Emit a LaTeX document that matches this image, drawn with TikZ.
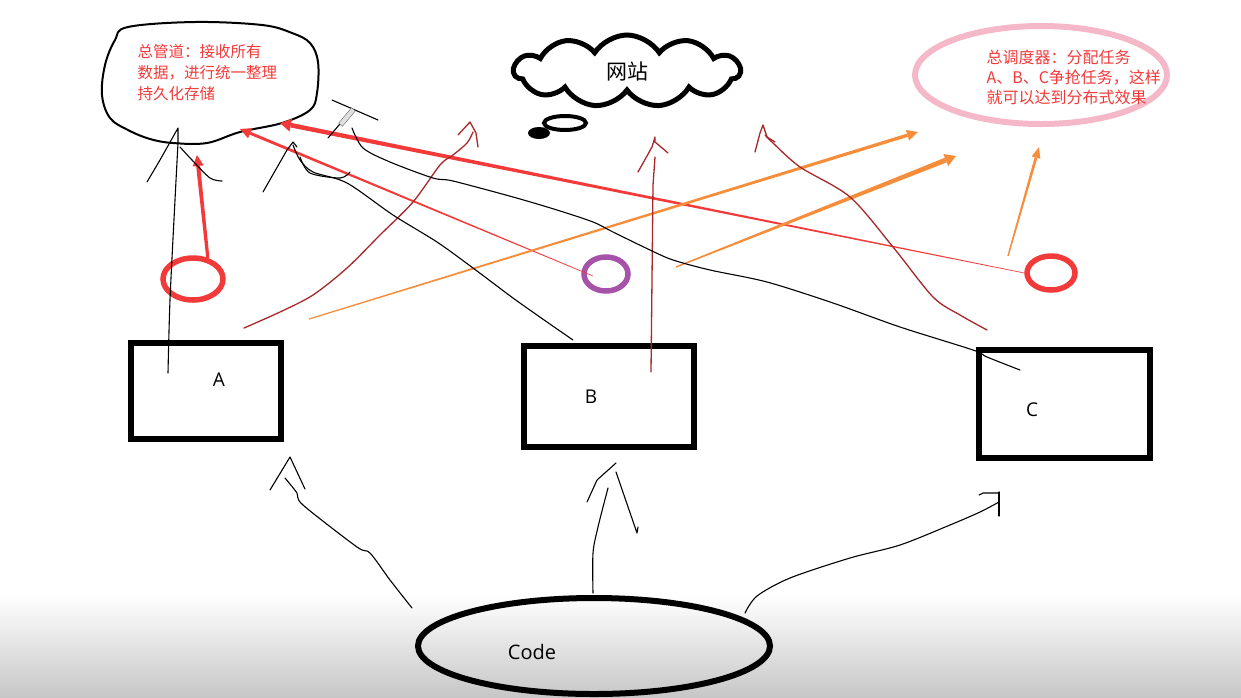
\documentclass[tikz,border=0pt]{standalone}
\usepackage{fontspec}
\setmainfont{Open Sans}
\newfontfamily\cjk{Noto Sans CJK SC}
\usetikzlibrary{calc,shapes.geometric,shapes.symbols}
\definecolor{inkred}{HTML}{F23A3A}
\definecolor{inkorange}{HTML}{F68D3A}
\definecolor{inkbrown}{HTML}{A8282A}
\definecolor{inkpink}{HTML}{F5B8C9}
\definecolor{inkpurple}{HTML}{A552A8}
\tikzset{
	box/.style={draw, rectangle, line width=6.5pt, inner sep=0pt},
	ring/.style={draw, ellipse, line width=5.5pt, inner sep=0pt},
	letter/.style={font=\fontsize{19}{22}\selectfont},
	note/.style={anchor=west, align=left, text=inkred},
	pen/.style={black, line width=1.1pt, line cap=round, line join=round},
	brush/.style={pen, inkbrown, line width=1.3pt}
}
% tapered arrow: [colour](from)(to)(start half width:end half width:head half width)
\def\taper[#1](#2)(#3)(#4:#5:#6){
	\coordinate (ta) at (#2);
	\coordinate (tb) at ($(#3)!11pt!(ta)$);
	\fill[#1] ($(ta)!#4!90:(tb)$) -- ($(tb)!#5!-90:(ta)$) -- ($(tb)!#5!90:(ta)$) -- ($(ta)!#4!-90:(tb)$) -- cycle;
	\fill[#1] (#3) -- ($(tb)!#6!90:(ta)$) -- ($(tb)!#6!-90:(ta)$) -- cycle;
}

\begin{document}
\begin{tikzpicture}[x=1pt,y=-1pt]
	%%%%% START %%%%%
	\useasboundingbox (0,0) rectangle (1241,697);
	\shade[top color=white, bottom color=black!22] (0,595) rectangle (1241,697);
	
	% pipeline blob
	\draw[line width=2pt, line join=round] plot[smooth cycle, tension=0.6] coordinates {(128,27) (195,22) (262,25) (292,33) (310,43) (318,62) (317,93) (310,110) (282,123) (240,132) (207,143) (173,143) (150,139) (128,130) (110,118) (102,95) (105,65) (115,40)};
	\node[note, font=\cjk\fontsize{15.5}{21}\selectfont] (pipeText) at (134,73) {总管道：接收所有\\数据，进行统一整理\\持久化存储};
	
	% website cloud
	\node[cloud, draw, line width=5pt, cloud puffs=11, cloud puff arc=115, aspect=2.8, minimum width=226pt, minimum height=72pt, font=\cjk\fontsize{21}{24}\selectfont] (web) at (627,71) {网站};
	\draw[line width=4pt] (565,123) ellipse (21 and 7);
	\fill (539,133) ellipse (11 and 6);
	
	% scheduler
	\node[ring, draw=inkpink, line width=6pt, minimum width=252pt, minimum height=98pt] (sched) at (1041,75) {};
	\node[note, font=\cjk\fontsize{16}{20}\selectfont] (schedText) at (983,77) {总调度器：分配任务\\A、B、C争抢任务，这样\\就可以达到分布式效果};
	
	% workers
	\node[box, minimum width=150pt, minimum height=96pt] (A) at (206,391) {};
	\node[box, minimum width=170pt, minimum height=101pt] (B) at (609,396.5) {};
	\node[box, minimum width=171pt, minimum height=108pt] (C) at (1064.5,404) {};
	\node[letter] (labA) at (219,380) {A};
	\node[letter] (labB) at (591,397) {B};
	\node[letter] (labC) at (1032,410) {C};
	
	\node[ring, draw=inkred, minimum width=60pt, minimum height=42pt] (cA) at (193,279) {};
	\node[ring, draw=inkpurple, minimum width=44pt, minimum height=34pt] (cB) at (606,274) {};
	\node[ring, draw=inkred, minimum width=48pt, minimum height=34pt] (cC) at (1051,273) {};
	
	% code
	\node[ring, line width=6pt, minimum width=352pt, minimum height=96pt] (code) at (594,646) {};
	\node[font=\fontsize{20}{24}\selectfont] (codeText) at (532,652) {Code};
	
	% arrow ends
	\coordinate (pipeA) at (197,155);
	\coordinate (pipeB) at (240,129);
	\coordinate (pipeC) at (280,123);
	\coordinate (fromB) at (593,276);
	\coordinate (fromA) at (309,319);
	\coordinate (fromB2) at (676,267);
	\coordinate (fromC) at (1008,256);
	\coordinate (schedA) at (918,132);
	\coordinate (schedB) at (956,156);
	\coordinate (schedC) at (1039,147);
	
	% red arrows
	\taper[inkred](cA.55)(pipeA)(1.6pt:2pt:5.5pt)
	\taper[inkred](fromB)(pipeB)(0.3pt:1.5pt:5.5pt)
	\taper[inkred](cC.west)(pipeC)(0.3pt:2.3pt:6.5pt)
	
	% orange arrows
	\taper[inkorange](fromA)(schedA)(0.6pt:1.7pt:5.5pt)
	\taper[inkorange](fromB2)(schedB)(0.7pt:2.5pt:6.5pt)
	\taper[inkorange](fromC)(schedC)(0.7pt:1.4pt:4.5pt)
	
	% hand drawn, brown
	\draw[brush] plot[smooth] coordinates {(244,328) (280,312) (313,295) (347,268) (380,235) (413,202) (440,165) (453,155) (467,143) (473,132)};
	\draw[brush] (458,135) -- (470,122) -- (476,133) -- (478,147);
	\draw[brush] (651,372) -- (653,185) -- (655,157);
	\draw[brush] (638,172) -- (652,147) -- (655,137) -- (655,142) -- (668,153);
	\draw[brush] plot[smooth] coordinates {(987,330) (960,315) (933,297) (893,247) (850,197) (800,167) (773,143) (765,135)};
	\draw[brush] (755,152) -- (760,133) -- (763,125) -- (767,137) -- (775,142);
	
	% hand drawn, black
	\draw[pen] plot[smooth] coordinates {(168,373) (170,300) (175,200) (178,143)};
	\draw[pen] (147,182) -- (160,160) -- (178,128) -- (178,143);
	\draw[pen] plot[smooth] coordinates {(180,147) (192,160) (210,178) (222,181)};
	
	\draw[pen] plot[smooth] coordinates {(573,340) (547,322) (513,298) (473,268) (437,242) (393,215) (347,183) (313,172) (300,160) (293,145)};
	\draw[pen] plot[smooth] coordinates {(300,157) (310,173) (340,178) (350,172)};
	\draw[pen] (263,192) -- (287,150) -- (293,142) -- (297,147);
	
	\draw[pen] plot[smooth] coordinates {(1020,370) (987,357) (973,350) (900,327) (833,303) (767,282) (710,270) (673,260) (650,250) (613,232) (593,222) (557,210) (513,197) (453,181) (433,178) (390,162) (363,148) (352,128)};
	\draw[pen] (332,100) -- (378,120);
	\draw[pen] (328,138) -- (350,112);
	\node[draw=black!60, fill=black!12, rectangle, minimum width=20pt, minimum height=5pt, inner sep=0pt, rotate=50] (pencil) at (347,117) {};
	
	\draw[pen] plot[smooth] coordinates {(412,608) (390,580) (370,553) (357,547) (303,505) (297,493) (285,478)};
	\draw[pen] (270,490) -- (290,457) -- (305,489);
	\draw[pen] plot[smooth] coordinates {(593,593) (593,553) (598,527) (608,488)};
	\draw[pen] (587,502) -- (597,480) -- (616,463);
	\draw[pen] (616,472) -- (637,533) -- (638,527);
	\draw[pen] plot[smooth] coordinates {(745,613) (757,596) (790,578) (850,558) (900,545) (950,525) (980,512) (999,502)};
	\draw[pen] (999,492) -- (999,516);
	\draw[pen] (979,495) -- (983,493) -- (999,493);
	%%%%% END %%%%%
\end{tikzpicture}
\end{document}
